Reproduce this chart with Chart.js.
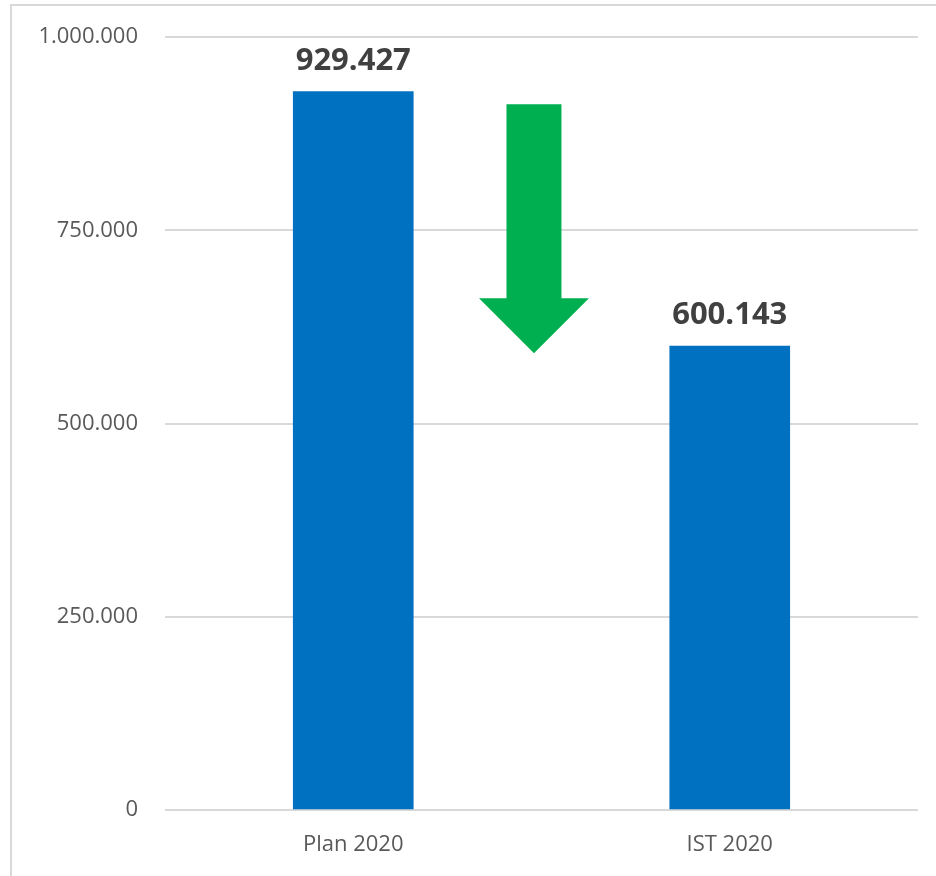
<!DOCTYPE html>
<html>
<head>
  <meta charset="UTF-8">
  <title>Plan / IST 2020</title>
  <script src="https://cdn.jsdelivr.net/npm/chart.js"></script>
  <style>
    html, body { margin: 0; padding: 0; background: #fff; }
    #frame {
      position: absolute; left: 10px; top: 4px;
      width: 924px; height: 870px;
      border-left: 2px solid #d9d9d9; border-top: 2px solid #d9d9d9;
    }
    canvas { display: block; }
  </style>
</head>
<body>
  <div id="frame"><canvas id="planChart" width="924" height="870"></canvas></div>

  <script>
    // Daten
    const categories = ['Plan 2020', 'IST 2020'];
    const values = [929427, 600143];
    const yTicks = [0, 250000, 500000, 750000, 1000000];

    // Pfeil zwischen den Balken (x als Kategorie-Position, y in Werten)
    const arrowX = 0.48;
    const arrowTop = 913000;
    const arrowHeadStart = 662000;
    const arrowTip = 591000;

    // deutsche Tausenderpunkte
    function fmt(v) {
      return String(Math.round(v)).replace(/\B(?=(\d{3})+(?!\d))/g, '.');
    }

    Chart.defaults.font.family = "'Open Sans', sans-serif";

    // Werte über den Balken
    const valueLabels = {
      id: 'valueLabels',
      afterDatasetsDraw(chart) {
        const ctx = chart.ctx;
        const meta = chart.getDatasetMeta(0);
        ctx.save();
        ctx.font = "bold 31px 'Open Sans', sans-serif";
        ctx.fillStyle = '#404040';
        ctx.textAlign = 'center';
        ctx.textBaseline = 'alphabetic';
        meta.data.forEach((bar, i) => {
          ctx.fillText(fmt(values[i]), bar.x, bar.y - 22);
        });
        ctx.restore();
      }
    };

    // grüner Pfeil nach unten
    const downArrow = {
      id: 'downArrow',
      afterDatasetsDraw(chart) {
        const x = chart.scales.x, y = chart.scales.y;
        const step = x.getPixelForValue(1) - x.getPixelForValue(0);
        const cx = x.getPixelForValue(arrowX);
        const shaft = step * 0.146 / 2;
        const head = step * 0.292 / 2;
        const top = y.getPixelForValue(arrowTop);
        const hs = y.getPixelForValue(arrowHeadStart);
        const tip = y.getPixelForValue(arrowTip);
        const ctx = chart.ctx;
        ctx.save();
        ctx.fillStyle = '#00B050';
        ctx.beginPath();
        ctx.moveTo(cx - shaft, top);
        ctx.lineTo(cx + shaft, top);
        ctx.lineTo(cx + shaft, hs);
        ctx.lineTo(cx + head, hs);
        ctx.lineTo(cx, tip);
        ctx.lineTo(cx - head, hs);
        ctx.lineTo(cx - shaft, hs);
        ctx.closePath();
        ctx.fill();
        ctx.restore();
      }
    };

    new Chart(document.getElementById('planChart'), {
      type: 'bar',
      data: {
        labels: categories,
        datasets: [{
          data: values,
          backgroundColor: '#0070C0',
          barThickness: 120
        }]
      },
      options: {
        responsive: false,
        animation: false,
        layout: { padding: { top: 31, right: 18, left: 0, bottom: 0 } },
        plugins: { legend: { display: false }, tooltip: { enabled: false } },
        scales: {
          x: {
            grid: { display: false, drawTicks: false },
            border: { display: false },
            ticks: { color: '#595959', font: { size: 22 }, padding: 22 },
            afterFit(scale) { scale.height = 66; }
          },
          y: {
            min: 0,
            max: 1000000,
            afterBuildTicks(scale) { scale.ticks = yTicks.map(v => ({ value: v })); },
            grid: { color: '#d9d9d9', lineWidth: 2, drawTicks: false },
            border: { display: false },
            ticks: {
              color: '#595959',
              font: { size: 22 },
              padding: 27,
              callback: v => fmt(v)
            },
            afterFit(scale) {
              scale.width = 153;
              scale.paddingTop = 0;
              scale.paddingBottom = 0;
            }
          }
        }
      },
      plugins: [valueLabels, downArrow]
    });
  </script>
</body>
</html>
